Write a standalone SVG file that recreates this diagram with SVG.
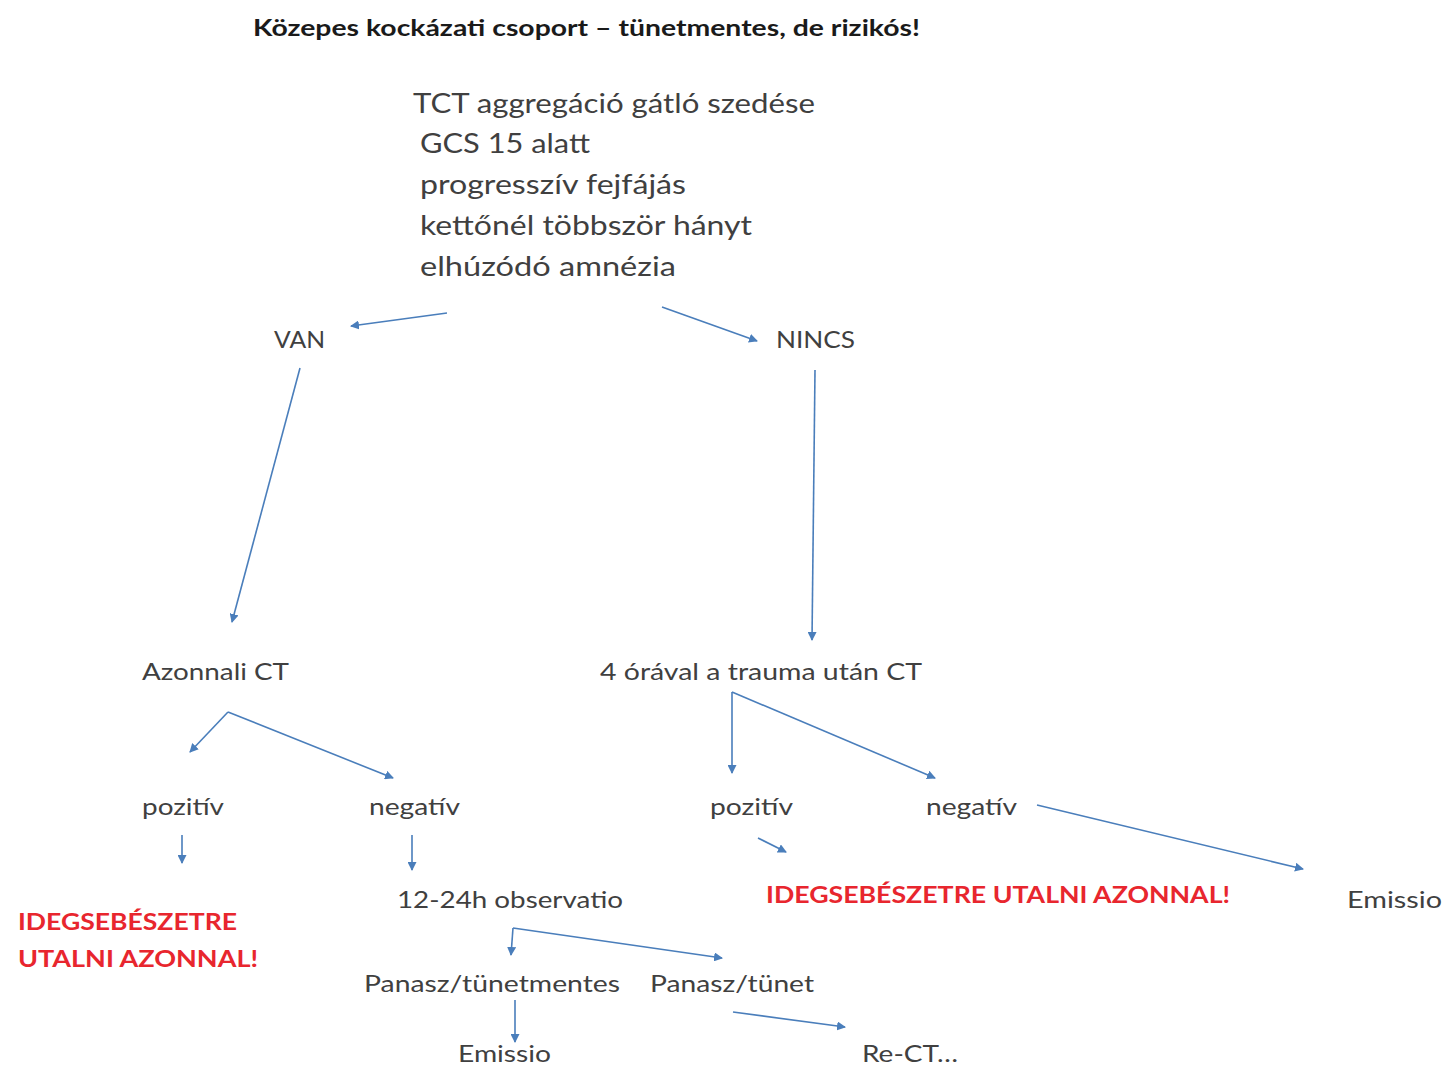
<svg xmlns="http://www.w3.org/2000/svg" width="1445" height="1071" viewBox="0 0 1445 1071">
  <style>
    .t { font-family: Lato, "Open Sans", "Liberation Sans", sans-serif; fill: #404040; }
    .title { font-family: Lato, "Open Sans", "Liberation Sans", sans-serif; font-weight: bold; font-size: 22px; fill: #1a1a1a; }
    .big { font-size: 27px; }
    .mid { font-size: 24px; }
    .warn { font-family: Lato, "Open Sans", "Liberation Sans", sans-serif; font-weight: bold; font-size: 23px; fill: #e8262e; }
    .edge { fill: none; stroke: #4a7ebb; stroke-width: 1.6; marker-end: url(#arrow); }
  </style>
  <defs>
    <marker id="arrow" markerUnits="userSpaceOnUse" markerWidth="10" markerHeight="9" refX="8" refY="4.5" orient="auto">
      <path d="M0,0 L9,4.5 L0,9 Z" fill="#4a7ebb"/>
    </marker>
  </defs>
  <rect width="1445" height="1071" fill="#ffffff"/>

  <g id="title">
    <text class="title" x="253" y="36" textLength="667" lengthAdjust="spacingAndGlyphs">Közepes kockázati csoport – tünetmentes, de rizikós!</text>
  </g>

  <g id="criteria">
    <text class="t big" x="413" y="113" textLength="402" lengthAdjust="spacingAndGlyphs">TCT aggregáció gátló szedése</text>
    <text class="t big" x="420" y="153" textLength="170" lengthAdjust="spacingAndGlyphs">GCS 15 alatt</text>
    <text class="t big" x="420" y="194" textLength="266" lengthAdjust="spacingAndGlyphs">progresszív fejfájás</text>
    <text class="t big" x="420" y="235" textLength="332" lengthAdjust="spacingAndGlyphs">kettőnél többször hányt</text>
    <text class="t big" x="420" y="276" textLength="256" lengthAdjust="spacingAndGlyphs">elhúzódó amnézia</text>
  </g>

  <g id="van"><text class="t mid" x="274" y="348" textLength="51" lengthAdjust="spacingAndGlyphs">VAN</text></g>
  <g id="nincs"><text class="t mid" x="776" y="348" textLength="79" lengthAdjust="spacingAndGlyphs">NINCS</text></g>

  <g id="azonnali-ct"><text class="t mid" x="142" y="680" textLength="147" lengthAdjust="spacingAndGlyphs">Azonnali CT</text></g>
  <g id="ct-4h"><text class="t mid" x="600" y="680" textLength="322" lengthAdjust="spacingAndGlyphs">4 órával a trauma után CT</text></g>

  <g id="pozitiv-left"><text class="t mid" x="142" y="815" textLength="82" lengthAdjust="spacingAndGlyphs">pozitív</text></g>
  <g id="negativ-left"><text class="t mid" x="369" y="815" textLength="91" lengthAdjust="spacingAndGlyphs">negatív</text></g>
  <g id="pozitiv-right"><text class="t mid" x="710" y="815" textLength="83" lengthAdjust="spacingAndGlyphs">pozitív</text></g>
  <g id="negativ-right"><text class="t mid" x="926" y="815" textLength="91" lengthAdjust="spacingAndGlyphs">negatív</text></g>

  <g id="refer-left">
    <text class="warn" x="18" y="930" textLength="219" lengthAdjust="spacingAndGlyphs">IDEGSEBÉSZETRE</text>
    <text class="warn" x="18" y="967" textLength="240" lengthAdjust="spacingAndGlyphs">UTALNI AZONNAL!</text>
  </g>
  <g id="observatio"><text class="t mid" x="397" y="908" textLength="226" lengthAdjust="spacingAndGlyphs">12-24h observatio</text></g>
  <g id="refer-right"><text class="warn" x="766" y="903" textLength="464" lengthAdjust="spacingAndGlyphs">IDEGSEBÉSZETRE UTALNI AZONNAL!</text></g>
  <g id="emissio-right"><text class="t mid" x="1347" y="908" textLength="95" lengthAdjust="spacingAndGlyphs">Emissio</text></g>

  <g id="tunetmentes"><text class="t mid" x="364" y="992" textLength="256" lengthAdjust="spacingAndGlyphs">Panasz/tünetmentes</text></g>
  <g id="tunet"><text class="t mid" x="650" y="992" textLength="164" lengthAdjust="spacingAndGlyphs">Panasz/tünet</text></g>
  <g id="emissio-bottom"><text class="t mid" x="458" y="1062" textLength="93" lengthAdjust="spacingAndGlyphs">Emissio</text></g>
  <g id="re-ct"><text class="t mid" x="862" y="1062" textLength="96" lengthAdjust="spacingAndGlyphs">Re-CT…</text></g>

  <g id="connectors">
    <path class="edge" d="M447,313 L351,326"/>
    <path class="edge" d="M662,307 L757,341"/>
    <path class="edge" d="M300,368 L232,622"/>
    <path class="edge" d="M815,370 L812,640"/>
    <path class="edge" d="M228,712 L190,752"/>
    <path class="edge" d="M228,712 L393,778"/>
    <path class="edge" d="M732,692 L732,773"/>
    <path class="edge" d="M732,692 L935,778"/>
    <path class="edge" d="M182,835 L182,863"/>
    <path class="edge" d="M412,835 L412,870"/>
    <path class="edge" d="M758,838 L786,852"/>
    <path class="edge" d="M1037,805 L1303,869"/>
    <path class="edge" d="M513,928 L511,955"/>
    <path class="edge" d="M513,928 L722,958"/>
    <path class="edge" d="M515,1000 L515,1042"/>
    <path class="edge" d="M733,1012 L845,1027"/>
  </g>
</svg>
